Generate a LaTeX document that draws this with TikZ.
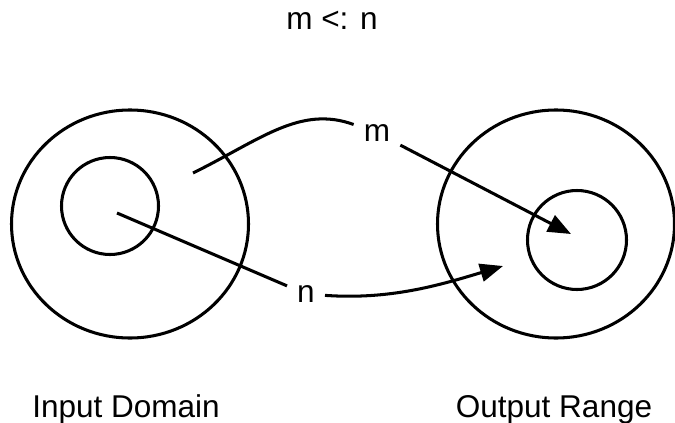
\documentclass[tikz,border=0pt]{standalone}
\usepackage{fontspec}
\setmainfont{Liberation Sans}
\usetikzlibrary{arrows.meta}
\tikzset{
  ring/.style={
    line width = 2.6pt
  },
  mapline/.style={
    line width = 2.6pt
  },
  maparrow/.style={
    line width = 2.6pt,
    -{Triangle[length=0.69cm,width=0.54cm]}
  },
  maplabel/.style={
    inner sep = 0.3cm
  },
  every picture/.style = {
    font=\fontsize{26.9pt}{32pt}\selectfont
  }
}

\begin{document}
\begin{tikzpicture}[x=0.03cm,y=-0.03cm]
            \useasboundingbox (0,0) rectangle (675,423);
            % domain and range
            \draw[ring] (130,224) ellipse [x radius=118.5, y radius=114];
            \draw[ring] (110,206) circle [radius=48.5];
            \draw[ring] (556,224) ellipse [x radius=118.5, y radius=114];
            \draw[ring] (577,240) circle [radius=49.5];
            \coordinate (m0) at (193,173);
            \coordinate (m1) at (571,234);
            \coordinate (n0) at (117,213);
            \coordinate (n1) at (503,266);
            \node[maplabel] (mlab) at (377,133) {m};
            \node[maplabel] (nlab) at (306,294) {n};
            \draw[mapline] (m0) .. controls (260,140) and (300,105) .. (mlab);
            \draw[maparrow] (mlab) -- (m1);
            \draw[mapline] (n0) -- (nlab);
            \draw[maparrow] (nlab) .. controls (390,300) and (440,285) .. (n1);
            \node[anchor=base] (title) at (332,30) {m <: n};
            \node[anchor=base] (inlab) at (126,417) {Input Domain};
            \node[anchor=base] (outlab) at (554,417) {Output Range};
        \end{tikzpicture}
\end{document}
